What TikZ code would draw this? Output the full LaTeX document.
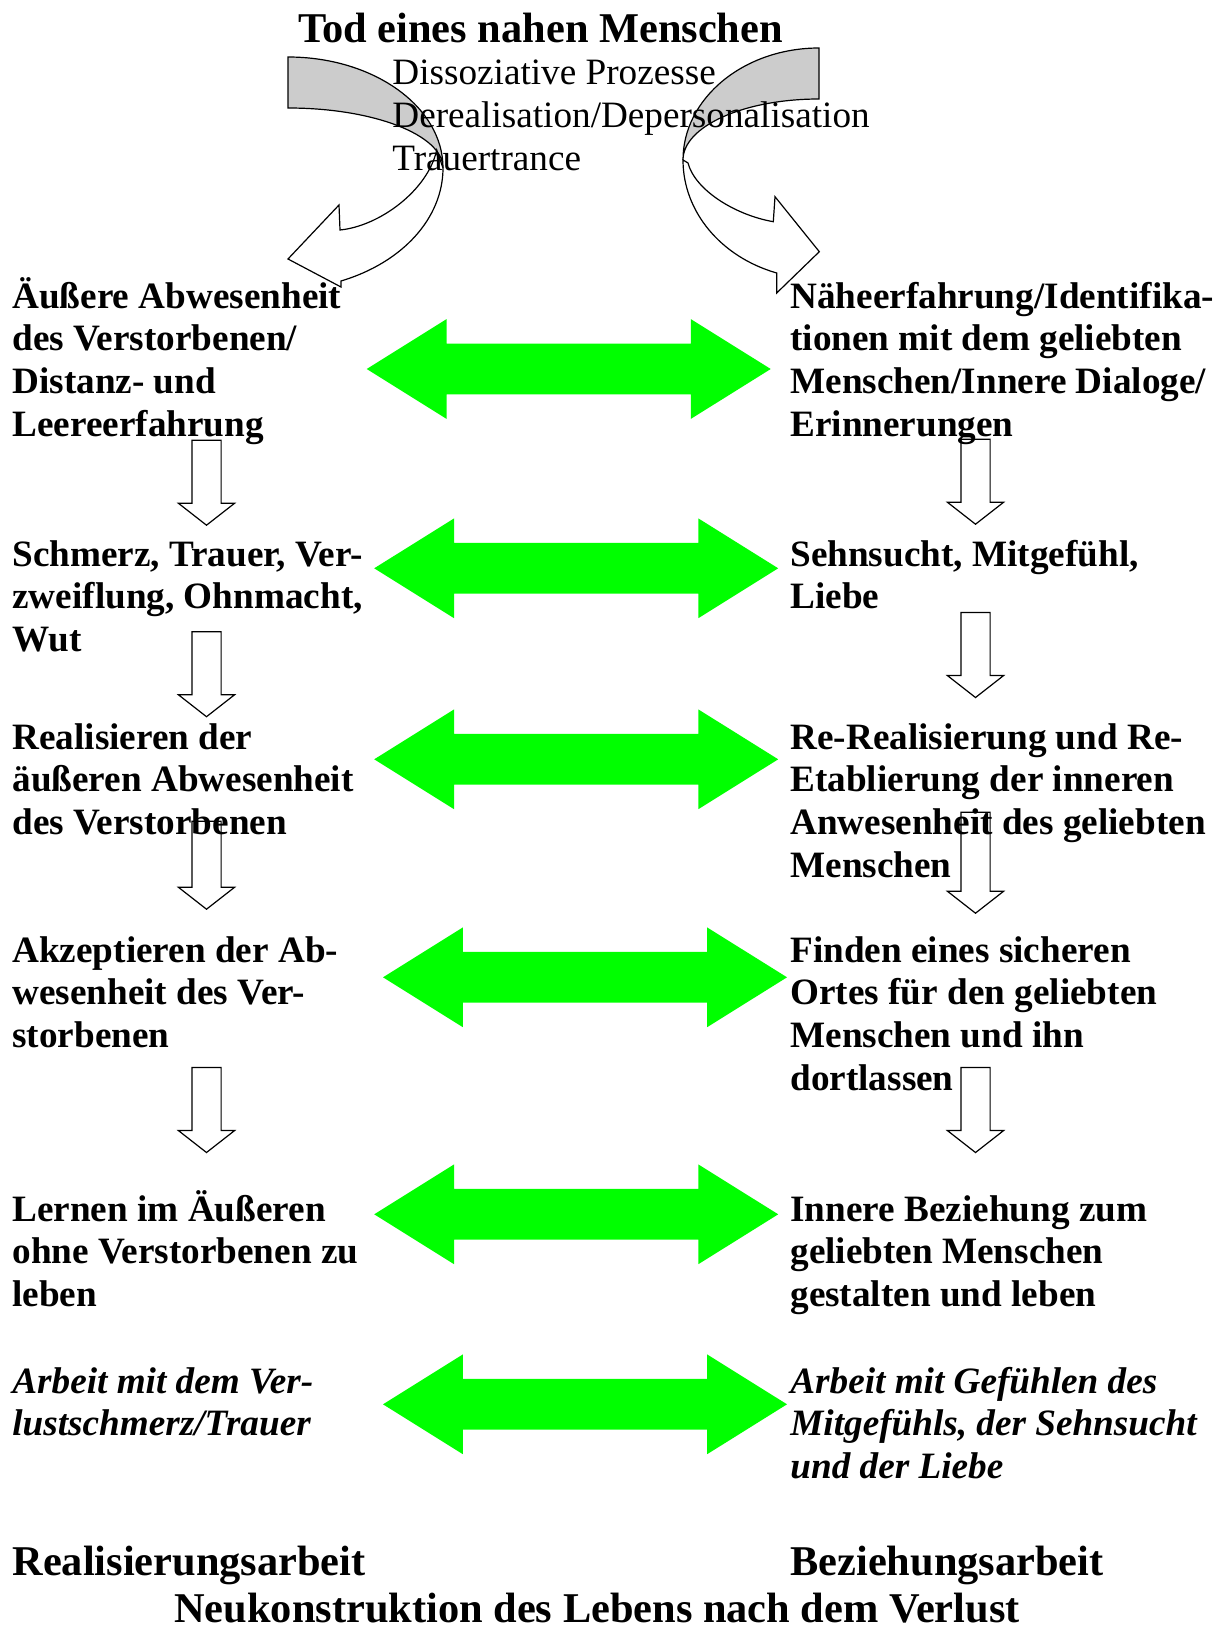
\documentclass[tikz,border=0pt]{standalone}
\usepackage{fontspec}
\setmainfont{Liberation Serif}
\usepackage{xcolor}
\usetikzlibrary{shapes.arrows}
\definecolor{wordgreen}{RGB}{0,255,0}
\definecolor{bandgray}{RGB}{204,204,204}

\begin{document}
\begin{tikzpicture}[
  x=0.5pt, y=-0.5pt,
  item/.style={anchor=base west, inner sep=0pt, align=left,
    font=\fontsize{18.6}{21.4}\selectfont\bfseries},
  itemit/.style={item, font=\fontsize{18.6}{21.4}\selectfont\bfseries\itshape},
  headline/.style={anchor=base, inner sep=0pt, font=\fontsize{21.2}{24}\selectfont\bfseries},
  duo/.style={double arrow, fill=wordgreen, draw=none, inner xsep=0pt, inner ysep=12.5pt,
    minimum height=202pt, minimum width=49.5pt,
    double arrow head extend=12.25pt, double arrow tip angle=64},
  dropar/.style={single arrow, draw, fill=white, line width=0.6pt, inner xsep=0pt, inner ysep=7pt,
    rotate=-90, minimum height=42.5pt, minimum width=27.5pt,
    single arrow head extend=6.75pt, single arrow tip angle=104},
  bandback/.style={draw, line width=0.6pt, fill=bandgray},
  bandfront/.style={draw, line width=0.6pt, fill=white}
]
  \useasboundingbox (0,0) rectangle (1225,1627);

  \draw[bandback] (288,57) .. controls (373.6,57) and (443,106.7) .. (443,168)
    .. controls (443,134.9) and (373.6,108) .. (288,108) -- cycle;
  \draw[bandfront] (443,168) .. controls (443,218) and (402.6,262.6) .. (341,281)
    -- (341,287) -- (288,259) -- (339,205) -- (340,230)
    .. controls (380,226) and (428,190) .. (436.7,150) -- cycle;
  \draw[bandback] (819,48) .. controls (743.9,48) and (683,98.1) .. (683,160)
    .. controls (683,126.3) and (743.9,99) .. (819,99) -- cycle;
  \draw[bandfront] (683,160) .. controls (683,211.5) and (720.8,257) .. (776.7,273)
    -- (776.7,293) -- (819.3,251.7) -- (775,196.7) -- (773.3,221.7)
    .. controls (735,215) and (695,190) .. (688,163) -- cycle;

  \node[duo] (link1) at (568.7,369) {};
  \node[duo] (link2) at (576.2,568.3) {};
  \node[duo] (link3) at (576.2,759.3) {};
  \node[duo] (link4) at (585,977.3) {};
  \node[duo] (link5) at (576.2,1214.3) {};
  \node[duo] (link6) at (585,1404.3) {};

  \node[dropar] (ldown1) at (206.5,477) {};
  \node[dropar] (ldown2) at (206.5,668.5) {};
  \node[dropar, minimum height=44pt] (ldown3) at (206.5,859.5) {};
  \node[dropar] (ldown4) at (206.5,1104.3) {};
  \node[dropar] (rdown1) at (975.5,476) {};
  \node[dropar] (rdown2) at (975.5,649.3) {};
  \node[dropar, minimum height=50.5pt] (rdown3) at (975.5,857) {};
  \node[dropar] (rdown4) at (975.5,1104.3) {};

  \node[headline] (death) at (540.5,43) {Tod eines nahen Menschen};
  \node[item, font=\fontsize{18.6}{21.5}\selectfont] (dissoc) at (392,170.6)
    {Dissoziative Prozesse\\Derealisation/Depersonalisation\\Trauertrance};

  \node[item] (absent) at (12,436.4) {Äußere Abwesenheit\\des Verstorbenen/\\Distanz- und\\Leereerfahrung};
  \node[item] (near) at (790,436.4) {Näheerfahrung/Identifika-\\tionen mit dem geliebten\\Menschen/Innere Dialoge/\\Erinnerungen};
  \node[item] (pain) at (12,651.6) {Schmerz, Trauer, Ver-\\zweiflung, Ohnmacht,\\Wut};
  \node[item] (longing) at (790,608.8) {Sehnsucht, Mitgefühl,\\Liebe};
  \node[item] (realise) at (12,834.6) {Realisieren der\\äußeren Abwesenheit\\des Verstorbenen};
  \node[item] (rereal) at (790,877.4) {Re-Realisierung und Re-\\Etablierung der inneren\\Anwesenheit des geliebten\\Menschen};
  \node[item] (accept) at (12,1047.6) {Akzeptieren der Ab-\\wesenheit des Ver-\\storbenen};
  \node[item] (place) at (790,1090.4) {Finden eines sicheren\\Ortes für den geliebten\\Menschen und ihn\\dortlassen};
  \node[item] (learn) at (12,1306.6) {Lernen im Äußeren\\ohne Verstorbenen zu\\leben};
  \node[item] (inner) at (790,1306.6) {Innere Beziehung zum\\geliebten Menschen\\gestalten und leben};
  \node[itemit] (griefwork) at (12,1435.8) {Arbeit mit dem Ver-\\lustschmerz/Trauer};
  \node[itemit] (feelwork) at (790,1478.6) {Arbeit mit Gefühlen des\\Mitgefühls, der Sehnsucht\\und der Liebe};

  \node[headline, anchor=base west] (realwork) at (12,1575) {Realisierungsarbeit};
  \node[headline, anchor=base west] (relwork) at (790,1575) {Beziehungsarbeit};
  \node[headline] (rebuild) at (597,1622) {Neukonstruktion des Lebens nach dem Verlust};
\end{tikzpicture}
\end{document}
